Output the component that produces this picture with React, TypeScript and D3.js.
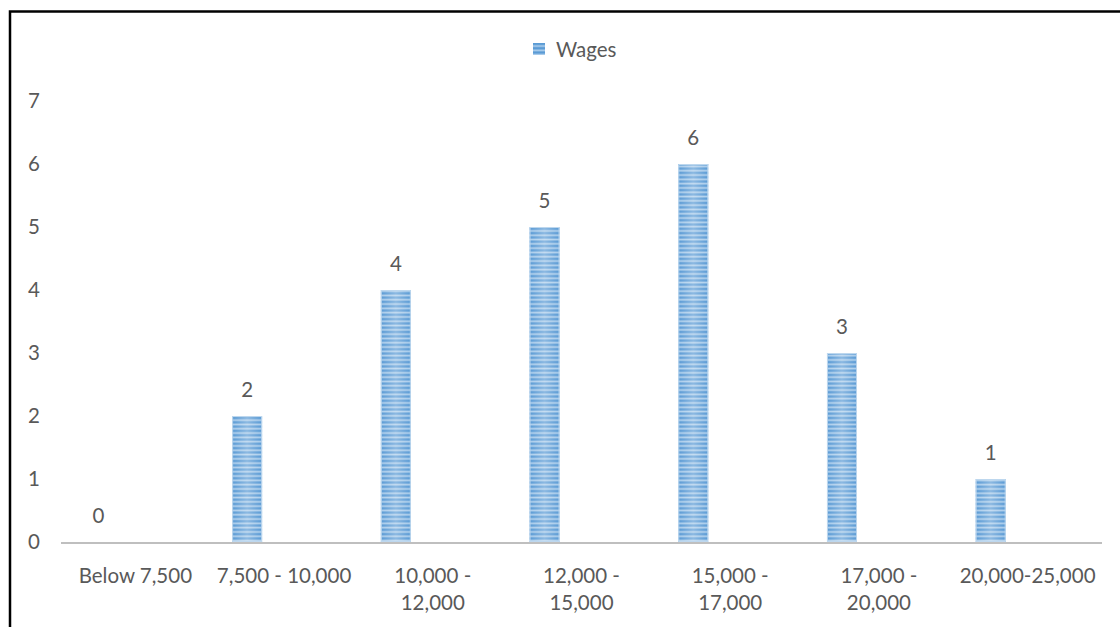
import React from "react";
import * as d3 from "d3";

const categories: string[][] = [
  ["Below 7,500"],
  ["7,500 - 10,000"],
  ["10,000 -", "12,000"],
  ["12,000 -", "15,000"],
  ["15,000 -", "17,000"],
  ["17,000 -", "20,000"],
  ["20,000-25,000"],
];
const wages: number[] = [0, 2, 4, 5, 6, 3, 1];
const yTicks: number[] = [0, 1, 2, 3, 4, 5, 6, 7];
const seriesName = "Wages";

const W = 1120;
const H = 627;
const FONT = "Lato, 'Open Sans', sans-serif";
const FS = 20.5;
const TEXT = "#595959";

export default function App() {
  const left = 61;
  const right = 1102;
  const top = 101;
  const bottom = 542;

  const keys = categories.map((c) => c.join(" "));
  const x = d3.scaleBand<string>().domain(keys).range([left, right]).padding(0);
  // two slots per category; the series occupies the first slot
  const slot = d3
    .scaleBand<number>()
    .domain([0, 1])
    .range([0, x.bandwidth()])
    .paddingInner(0.594)
    .paddingOuter(0.303);
  const y = d3.scaleLinear().domain([0, 7]).range([bottom, top]);

  return (
    <svg width={W} height={H} style={{ display: "block", position: "absolute", left: 0, top: 0 }}>
      <defs>
        <pattern id="stripes" width="8" height="4.3" patternUnits="userSpaceOnUse">
          <rect width="8" height="4.3" fill="#5B9BD5" />
          <rect y="2.2" width="8" height="1.7" fill="#AFCFEC" />
        </pattern>
        <linearGradient id="shine" x1="0" x2="1" y1="0" y2="0">
          <stop offset="0" stopColor="#ffffff" stopOpacity="0" />
          <stop offset="0.5" stopColor="#ffffff" stopOpacity="0.3" />
          <stop offset="1" stopColor="#ffffff" stopOpacity="0" />
        </linearGradient>
      </defs>
      <rect x={0} y={0} width={W} height={H} fill="#fff" />
      {/* chart frame */}
      <rect x={10} y={11.5} width={W + 20} height={H + 20} fill="none" stroke="#000" strokeWidth={2.5} />

      {/* legend */}
      <g>
        <rect x={533} y={43} width={12} height={12} fill="url(#stripes)" />
        <text x={556} y={57} fontFamily={FONT} fontSize={FS} fill={TEXT}>
          {seriesName}
        </text>
      </g>

      {/* y axis labels */}
      {yTicks.map((t) => (
        <text
          key={t}
          x={34}
          y={y(t)}
          dy="0.35em"
          textAnchor="middle"
          fontFamily={FONT}
          fontSize={FS}
          fill={TEXT}
        >
          {t}
        </text>
      ))}

      {/* bars */}
      {keys.map((k, i) => {
        const bx = (x(k) ?? 0) + (slot(0) ?? 0);
        const bw = slot.bandwidth();
        const by = y(wages[i]);
        const bh = y(0) - y(wages[i]);
        return (
          <g key={k}>
            {bh > 0 && (
              <>
                <rect x={bx} y={by} width={bw} height={bh} fill="url(#stripes)" />
                <rect x={bx} y={by} width={bw} height={bh} fill="url(#shine)" />
                <rect x={bx + 0.5} y={by + 0.5} width={bw - 1} height={bh - 1} fill="none" stroke="#BDD7EE" strokeWidth={1} />
              </>
            )}
            <text
              x={bx + bw / 2}
              y={by - 19}
              textAnchor="middle"
              fontFamily={FONT}
              fontSize={FS}
              fill={TEXT}
            >
              {wages[i]}
            </text>
          </g>
        );
      })}

      {/* category axis */}
      <line x1={left} x2={right} y1={bottom + 1} y2={bottom + 1} stroke="#BFBFBF" strokeWidth={2} />
      {categories.map((lines, i) => {
        const cx = (x(keys[i]) ?? 0) + x.bandwidth() / 2;
        return (
          <text key={keys[i]} textAnchor="middle" fontFamily={FONT} fontSize={FS} fill={TEXT}>
            {lines.map((l, j) => (
              <tspan key={j} x={cx} y={583 + j * 27}>
                {l}
              </tspan>
            ))}
          </text>
        );
      })}
    </svg>
  );
}
